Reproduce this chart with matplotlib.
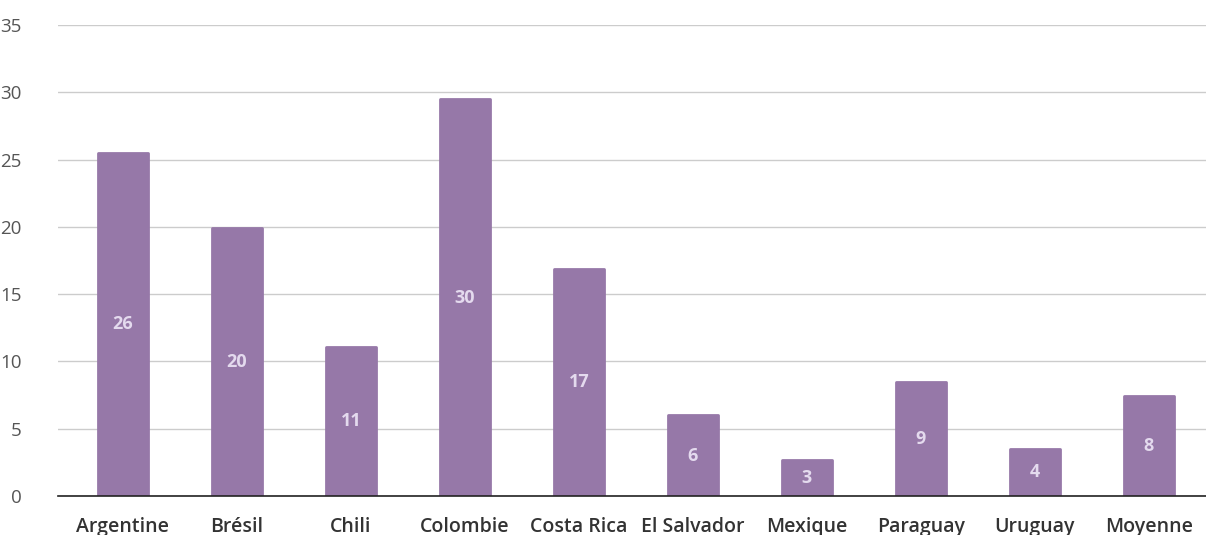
import matplotlib
matplotlib.use('Agg')
import matplotlib.pyplot as plt
import numpy as np

# Chart data
countries = ['Argentine', 'Brésil', 'Chili', 'Colombie', 'Costa Rica',
             'El Salvador', 'Mexique', 'Paraguay', 'Uruguay', 'Moyenne']
values = [25.5, 19.9, 11.1, 29.5, 16.9, 6.0, 2.7, 8.5, 3.5, 7.45]
value_labels = ['26', '20', '11', '30', '17', '6', '3', '9', '4', '8']
y_ticks = [0, 5, 10, 15, 20, 25, 30, 35]

BAR_COLOR = '#9678a8'
LABEL_COLOR = '#e4daee'

plt.rcParams['font.family'] = ['Open Sans', 'DejaVu Sans']

fig = plt.figure(figsize=(12.06, 5.35), dpi=100)
ax = fig.add_axes([58 / 1206, 39 / 535, (1206 - 58) / 1206, (496 - 25) / 535])

x = np.arange(len(countries))
ax.bar(x, values, width=0.44, color=BAR_COLOR, edgecolor=BAR_COLOR,
       linewidth=2, joinstyle='round', zorder=2)

for xi, v, lab in zip(x, values, value_labels):
    ax.text(xi, v / 2, lab, ha='center', va='center', color=LABEL_COLOR,
            fontsize=13, fontweight='bold', zorder=3)

ax.set_xlim(-0.57, 9.5)
ax.set_ylim(0, 35)
ax.set_yticks(y_ticks)
ax.yaxis.grid(True, color='#cccccc', linewidth=1, zorder=0)
ax.set_axisbelow(True)

ax.set_xticks(x)
ax.set_xticklabels(countries, fontsize=14, fontweight='semibold', color='#333333')
ax.tick_params(axis='x', length=0, pad=15)
ax.tick_params(axis='y', length=0, pad=26, labelsize=13.5, labelcolor='#555555')

for side in ['top', 'right', 'left']:
    ax.spines[side].set_visible(False)
ax.spines['bottom'].set_color('#222222')
ax.spines['bottom'].set_linewidth(1.2)
ax.spines['bottom'].set_zorder(4)

fig.savefig('out.png', dpi=100)
